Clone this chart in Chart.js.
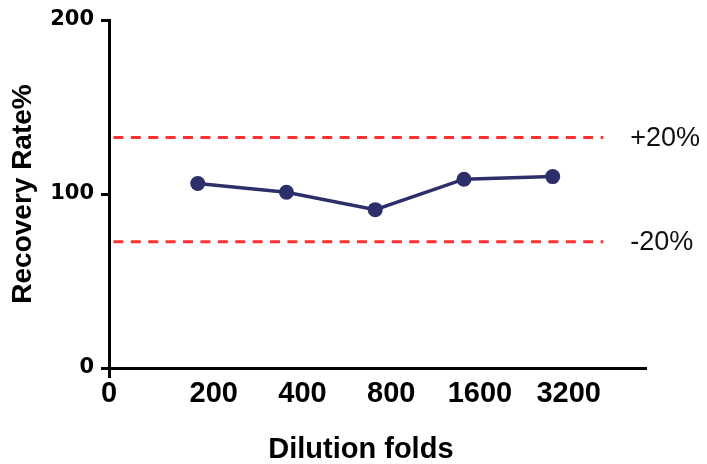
<!DOCTYPE html>
<html>
<head>
<meta charset="utf-8">
<script src="https://cdn.jsdelivr.net/npm/chart.js@4/dist/chart.umd.min.js"></script>
<style>
  html, body { margin: 0; padding: 0; background: #fff; }
  #wrap { width: 707px; height: 464px; }
</style>
</head>
<body>
<div id="wrap"><canvas id="myChart" width="707" height="464"></canvas></div>
<script>
'use strict';
// data
const folds = ['0', '200', '400', '800', '1600', '3200'];
const recovery = [106, 101, 91, 108.5, 110];
const limitValues = [132.5, 72.5];
const limitLabels = ['+20%', '-20%'];
const yTicks = [0, 100, 200];

const navy = '#2d2f6b';
const red = '#ff3030';
const labelShift = 0.18; // tick labels sit a bit right of the points
const limitFrom = 0.05;
const limitTo = 5.57;

const points = [];
for (let i = 0; i < recovery.length; i++) {
  points.push({ x: i + 1, y: recovery[i] });
}

const limitSets = [];
for (let i = 0; i < limitValues.length; i++) {
  limitSets.push({
    label: limitLabels[i],
    data: [{ x: limitFrom, y: limitValues[i] }, { x: limitTo, y: limitValues[i] }],
    borderColor: red,
    borderWidth: 3,
    borderDash: [10, 7.4],
    pointRadius: 0,
    fill: false,
  });
}

// writes +20% / -20% after the end of each dashed line
const limitText = {
  id: 'limitText',
  afterDatasetsDraw(chart) {
    const ctx = chart.ctx;
    ctx.save();
    ctx.font = '27px "Liberation Sans", Arial, sans-serif';
    ctx.fillStyle = '#111';
    ctx.textAlign = 'left';
    ctx.textBaseline = 'middle';
    for (let i = 1; i < chart.data.datasets.length; i++) {
      const meta = chart.getDatasetMeta(i);
      const last = meta.data[meta.data.length - 1];
      ctx.fillText(chart.data.datasets[i].label, last.x + 27, last.y + 1);
    }
    ctx.restore();
  }
};

new Chart(document.getElementById('myChart'), {
  type: 'line',
  data: {
    datasets: [{
      label: 'Recovery',
      data: points,
      borderColor: navy,
      backgroundColor: navy,
      borderWidth: 3.5,
      pointRadius: 7.5,
      pointBorderWidth: 0,
      tension: 0,
      fill: false,
    }].concat(limitSets)
  },
  options: {
    responsive: false,
    animation: false,
    layout: { padding: { left: 0, right: 62, top: 20, bottom: 0 } },
    plugins: {
      legend: { display: false },
      tooltip: { enabled: false }
    },
    scales: {
      x: {
        type: 'linear',
        min: 0,
        max: 6.04,
        afterBuildTicks(scale) {
          scale.ticks = folds.map((f, i) => ({ value: i === 0 ? 0 : i + labelShift }));
        },
        afterFit(scale) { scale.height = 96; },
        grid: {
          drawOnChartArea: false,
          drawTicks: true,
          tickLength: 10,
          lineWidth: 3,
          tickColor: (c) => (c.index === 0 ? '#000' : 'rgba(0,0,0,0)')
        },
        border: { display: true, color: '#000', width: 3 },
        ticks: {
          autoSkip: false,
          maxRotation: 0,
          padding: 1,
          color: '#000',
          font: { family: '"Liberation Sans", Arial, sans-serif', size: 29, weight: 'bold', lineHeight: 1 },
          callback: (v, i) => folds[i]
        },
        title: {
          display: true,
          text: 'Dilution folds    ',
          color: '#000',
          padding: { top: 0, bottom: 0 },
          font: { family: '"Liberation Sans", Arial, sans-serif', size: 29, weight: 'bold', lineHeight: 1 }
        }
      },
      y: {
        min: 0,
        max: 200,
        afterBuildTicks(scale) {
          scale.ticks = yTicks.map((v) => ({ value: v }));
        },
        afterFit(scale) { scale.width = 109; },
        grid: {
          drawOnChartArea: false,
          drawTicks: true,
          tickLength: 8,
          lineWidth: 3,
          tickColor: '#000'
        },
        border: { display: true, color: '#000', width: 3 },
        ticks: {
          padding: 7,
          color: '#000',
          font: { family: '"DejaVu Sans", sans-serif', size: 21, weight: 'bold' }
        },
        title: {
          display: true,
          text: 'Recovery Rate%',
          color: '#000',
          padding: { top: 9, bottom: 0 },
          font: { family: '"Liberation Sans", Arial, sans-serif', size: 28, weight: 'bold', lineHeight: 1 }
        }
      }
    }
  },
  plugins: [limitText]
});
</script>
</body>
</html>
